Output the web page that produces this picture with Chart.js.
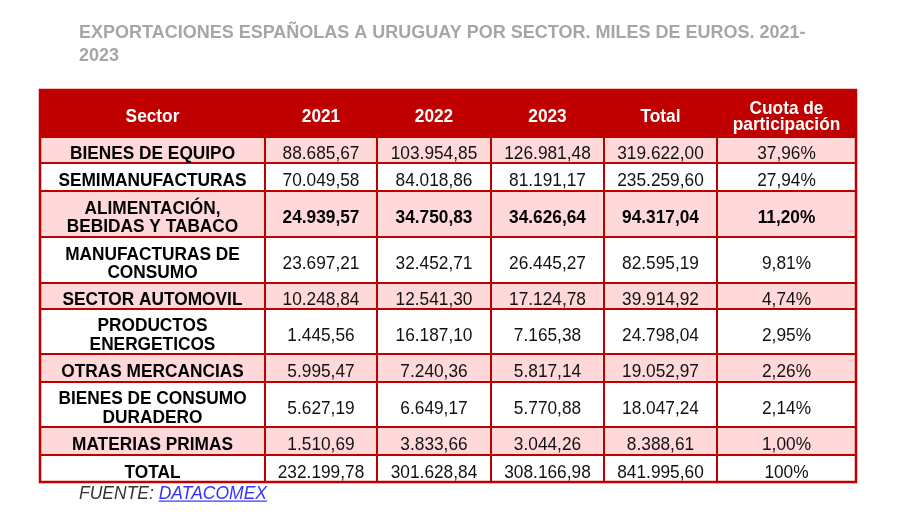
<!DOCTYPE html>
<html>
<head>
<meta charset="utf-8">
<script src="https://cdn.jsdelivr.net/npm/chart.js@4.4.1/dist/chart.umd.min.js"></script>
<style>
  html, body { margin: 0; padding: 0; background: #ffffff; }
  canvas { display: block; }
</style>
</head>
<body>
<canvas id="c" width="900" height="519"></canvas>
<script>
// ---------- DATA ----------
const titleLines = ['EXPORTACIONES ESPAÑOLAS A URUGUAY POR SECTOR. MILES DE EUROS. 2021-', '2023'];
const headerLabels = ['Sector', '2021', '2022', '2023', 'Total', ['Cuota de', 'participación']];
const sectors = [
  'BIENES DE EQUIPO',
  'SEMIMANUFACTURAS',
  ['ALIMENTACIÓN,', 'BEBIDAS Y TABACO'],
  ['MANUFACTURAS DE', 'CONSUMO'],
  'SECTOR AUTOMOVIL',
  ['PRODUCTOS', 'ENERGETICOS'],
  'OTRAS MERCANCIAS',
  ['BIENES DE CONSUMO', 'DURADERO'],
  'MATERIAS PRIMAS'
];
const v2021 = [88685.67, 70049.58, 24939.57, 23697.21, 10248.84, 1445.56, 5995.47, 5627.19, 1510.69];
const v2022 = [103954.85, 84018.86, 34750.83, 32452.71, 12541.30, 16187.10, 7240.36, 6649.17, 3833.66];
const v2023 = [126981.48, 81191.17, 34626.64, 26445.27, 17124.78, 7165.38, 5817.14, 5770.88, 3044.26];
const totals = [319622.00, 235259.60, 94317.04, 82595.19, 39914.92, 24798.04, 19052.97, 18047.24, 8388.61];
const shares = [37.96, 27.94, 11.20, 9.81, 4.74, 2.95, 2.26, 2.14, 1.00];
const totalLabel = 'TOTAL';
const totalRow = [232199.78, 301628.84, 308166.98, 841995.60];
const totalShare = 100;
const boldRows = [2];           // row with bold figures (ALIMENTACIÓN...)
const sourceLabel = 'FUENTE: ';
const sourceLink = 'DATACOMEX';

// ---------- LAYOUT (not data) ----------
const colEdges = [40, 265, 377, 491, 604, 717, 856];
const rowEdges = [90, 137, 163, 191, 237, 283, 309, 354, 382, 427, 455, 482];
const RED = '#c00000';
const PINK = '#ffd9d9';
const FONT = '"Liberation Sans", Arial, Helvetica, sans-serif';
const TEXT_SY = 1.07;

// ---------- FORMATTING ----------
function fmtNum(v) {
  const parts = v.toFixed(2).split('.');
  return parts[0].replace(/\B(?=(\d{3})+(?!\d))/g, '.') + ',' + parts[1];
}
function fmtPct(v) {
  if (Number.isInteger(v) && v === 100) return '100%';
  return v.toFixed(2).replace('.', ',') + '%';
}

// ---------- TABLE CELL TEXTS BY COLUMN ----------
const nRows = rowEdges.length - 1; // header + 9 sectors + total
const columns = [
  [headerLabels[0], ...sectors, totalLabel],
  [headerLabels[1], ...v2021.map(fmtNum), fmtNum(totalRow[0])],
  [headerLabels[2], ...v2022.map(fmtNum), fmtNum(totalRow[1])],
  [headerLabels[3], ...v2023.map(fmtNum), fmtNum(totalRow[2])],
  [headerLabels[4], ...totals.map(fmtNum), fmtNum(totalRow[3])],
  [headerLabels[5], ...shares.map(fmtPct), fmtPct(totalShare)]
];
const rowCenter = r => (rowEdges[r] + rowEdges[r + 1]) / 2;
const colCenter = c => (colEdges[c] + colEdges[c + 1]) / 2;

const datasets = columns.map((col, c) => ({
  label: typeof headerLabels[c] === 'string' ? headerLabels[c] : headerLabels[c].join(' '),
  data: col.map((_, r) => ({ x: colCenter(c), y: rowCenter(r) })),
  texts: col,
  pointRadius: 0,
  pointHoverRadius: 0,
  showLine: false
}));

function rowFill(r) {
  if (r === 0) return RED;
  if (r === nRows - 1) return '#ffffff';
  return (r % 2 === 1) ? PINK : '#ffffff';
}

function drawText(ctx, text, x, y, sy) {
  ctx.save();
  ctx.translate(x, y);
  ctx.scale(1, sy);
  ctx.fillText(text, 0, 0);
  ctx.restore();
}

const tablePlugin = {
  id: 'tablePlugin',
  beforeDatasetsDraw(chart) {
    const ctx = chart.ctx;
    const xs = chart.scales.x, ys = chart.scales.y;
    const X = v => xs.getPixelForValue(v);
    const Y = v => ys.getPixelForValue(v);
    ctx.save();
    // title
    ctx.fillStyle = '#a6a6a6';
    ctx.font = 'bold 18px ' + FONT;
    ctx.textAlign = 'left';
    ctx.textBaseline = 'alphabetic';
    drawText(ctx, titleLines[0], X(79), Y(37.5), 1.02);
    drawText(ctx, titleLines[1], X(79), Y(61), 1.02);
    // row fills
    for (let r = 0; r < nRows; r++) {
      ctx.fillStyle = rowFill(r);
      const y0 = Y(rowEdges[r]), y1 = Y(rowEdges[r + 1]);
      ctx.fillRect(X(colEdges[0]), y0, X(colEdges[colEdges.length - 1]) - X(colEdges[0]), y1 - y0);
    }
    // grid lines
    ctx.strokeStyle = RED;
    ctx.lineWidth = 2;
    const top = Y(rowEdges[0]), bottom = Y(rowEdges[rowEdges.length - 1]);
    const left = X(colEdges[0]), right = X(colEdges[colEdges.length - 1]);
    for (let c = 1; c < colEdges.length - 1; c++) {
      ctx.beginPath();
      ctx.moveTo(X(colEdges[c]), top);
      ctx.lineTo(X(colEdges[c]), bottom);
      ctx.stroke();
    }
    for (let r = 1; r < rowEdges.length - 1; r++) {
      ctx.beginPath();
      ctx.moveTo(left, Y(rowEdges[r]));
      ctx.lineTo(right, Y(rowEdges[r]));
      ctx.stroke();
    }
    ctx.lineWidth = 2.5;
    ctx.strokeRect(left, top, right - left, bottom - top);
    // source
    ctx.font = 'italic 17.5px ' + FONT;
    ctx.fillStyle = '#333333';
    drawText(ctx, sourceLabel, X(79), Y(499), 1.03);
    const w = ctx.measureText(sourceLabel).width;
    ctx.fillStyle = '#3333ff';
    drawText(ctx, sourceLink, X(79) + w, Y(499), 1.03);
    const w2 = ctx.measureText(sourceLink).width;
    ctx.fillRect(X(79) + w, Y(500.5), w2, 1.2);
    ctx.restore();
  },
  afterDatasetsDraw(chart) {
    const ctx = chart.ctx;
    ctx.save();
    ctx.textAlign = 'center';
    ctx.textBaseline = 'alphabetic';
    chart.data.datasets.forEach((ds, c) => {
      const meta = chart.getDatasetMeta(c);
      meta.data.forEach((el, r) => {
        const t = ds.texts[r];
        const lines = Array.isArray(t) ? t : [t];
        let bold = false, color = '#111111', spacing = 18.5, off = 9.2;
        if (r === 0) { bold = true; color = '#ffffff'; spacing = 16.5; off = 8.6; }
        else if (c === 0) { bold = true; color = '#000000'; }
        else if (boldRows.includes(r - 1)) { bold = true; color = '#000000'; }
        ctx.font = (bold ? 'bold ' : '') + '17.3px ' + FONT;
        ctx.fillStyle = color;
        const n = lines.length;
        lines.forEach((line, i) => {
          const dy = (i - (n - 1) / 2) * spacing + off;
          drawText(ctx, line, el.x, el.y + dy, TEXT_SY);
        });
      });
    });
    ctx.restore();
  }
};

new Chart(document.getElementById('c'), {
  type: 'scatter',
  data: { datasets },
  options: {
    responsive: false,
    animation: false,
    events: [],
    layout: { padding: 0 },
    plugins: { legend: { display: false }, tooltip: { enabled: false }, title: { display: false } },
    scales: {
      x: { type: 'linear', min: 0, max: 900, display: false },
      y: { type: 'linear', min: 0, max: 519, reverse: true, display: false }
    }
  },
  plugins: [tablePlugin]
});
</script>
</body>
</html>
